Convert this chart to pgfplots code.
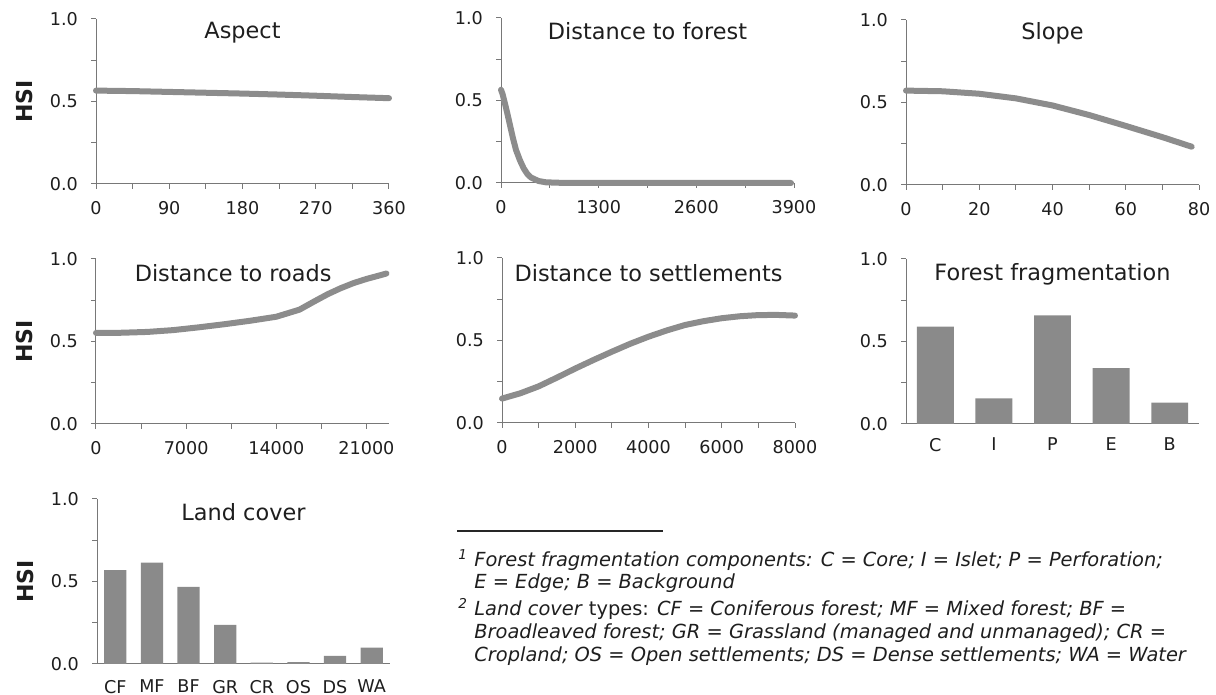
\documentclass[border=0pt]{standalone}
\usepackage{pgfplots}
\pgfplotsset{compat=1.18}
\usepackage{fontspec}
\setmainfont{DejaVu Sans}
\definecolor{lineg}{RGB}{140,140,140}
\definecolor{barg}{RGB}{138,138,138}
\definecolor{axg}{RGB}{120,120,120}
\definecolor{txt}{RGB}{30,30,30}
\tikzset{ptitle/.style={font=\fontsize{11.2}{12}\selectfont, text=txt, anchor=center},
  fn/.style={anchor=base west, inner sep=0pt, text=txt, font=\fontsize{9.7}{11}\selectfont}}
\pgfplotsset{
  panel/.style={
    scale only axis, width=146.5pt, height=82.5pt,
    ymin=0, ymax=1, ytick={0,0.5,1}, minor ytick={0.25,0.75},
    axis lines*=left, clip=false,
    axis line style={axg, line width=0.5pt},
    tick align=outside, major tick length=2.5pt, minor tick length=2.5pt,
    tick style={axg, line width=0.5pt},
    ticklabel style={font=\fontsize{8.8}{10}\selectfont, text=txt},
    scaled x ticks=false,
    /pgf/number format/assume math mode=true,
    /pgf/number format/1000 sep={},
    yticklabel style={xshift=-3pt, /pgf/number format/fixed, /pgf/number format/fixed zerofill, /pgf/number format/precision=1},
    xticklabel style={yshift=-2.5pt},
    ylabel style={at={(axis description cs:-0.245,0.5)}, anchor=center, font=\fontsize{11}{12}\bfseries\selectfont, text=txt},
  },
  curve/.style={line width=3pt, lineg, line cap=round, line join=round, no marks},
  bars/.style={ybar, fill=barg, draw=none},
}
\begin{document}
\begin{tikzpicture}
\path[use as bounding box] (0,0) rectangle (608pt,347.5pt);

% Aspect
\begin{axis}[panel, at={(48pt,255.5pt)}, anchor=south west,
  xmin=0, xmax=360, xtick={0,90,180,270,360}, minor xtick={45,135,225,315},
  ylabel={HSI}]
\addplot[curve] coordinates {(0,0.566) (45,0.563) (90,0.558) (135,0.553) (180,0.548) (225,0.542) (270,0.535) (315,0.527) (360,0.52)};
\node[ptitle] at (rel axis cs:0.5,0.92) {Aspect};
\end{axis}

% Distance to forest
\begin{axis}[panel, at={(250.5pt,256pt)}, anchor=south west,
  xmin=0, xmax=3900, xtick={0,1300,2600,3900}, minor xtick={650,1950,3250}]
\addplot[curve] coordinates {(0,0.565) (20,0.54) (40,0.505) (80,0.43) (120,0.35) (160,0.27) (200,0.2) (250,0.14) (300,0.09) (350,0.055) (400,0.033) (500,0.012) (600,0.004) (800,0.001) (1200,0) (3860,0)};
\node[ptitle] at (rel axis cs:0.5,0.92) {Distance to forest};
\end{axis}

% Slope
\begin{axis}[panel, at={(453pt,255pt)}, anchor=south west,
  xmin=0, xmax=80, xtick={0,20,40,60,80}, minor xtick={10,30,50,70}]
\addplot[curve] coordinates {(0,0.572) (10,0.568) (20,0.553) (30,0.525) (40,0.482) (50,0.424) (60,0.358) (70,0.29) (78,0.232)};
\node[ptitle] at (rel axis cs:0.5,0.92) {Slope};
\end{axis}

% Distance to roads
\begin{axis}[panel, at={(48pt,135.5pt)}, anchor=south west,
  xmin=0, xmax=22750, xtick={0,7000,14000,21000}, minor xtick={3500,10500,17500},
  ylabel={HSI}]
\addplot[curve] coordinates {(0,0.552) (2000,0.553) (4000,0.558) (6000,0.569) (8000,0.586) (10000,0.605) (12000,0.626) (14000,0.65) (15800,0.693) (17000,0.745) (18000,0.787) (19000,0.823) (20000,0.854) (21000,0.879) (22000,0.9) (22550,0.912)};
\node[ptitle] at (rel axis cs:0.468,0.915) {Distance to roads};
\end{axis}

% Distance to settlements
\begin{axis}[panel, at={(251pt,136pt)}, anchor=south west,
  xmin=0, xmax=8000, xtick={0,2000,4000,6000,8000}, minor xtick={1000,3000,5000,7000}]
\addplot[curve] coordinates {(0,0.148) (500,0.18) (1000,0.222) (1500,0.275) (2000,0.33) (2500,0.382) (3000,0.432) (3500,0.48) (4000,0.523) (4500,0.561) (5000,0.594) (5500,0.617) (6000,0.635) (6500,0.647) (7000,0.654) (7500,0.655) (8000,0.651)};
\node[ptitle] at (rel axis cs:0.5,0.91) {Distance to settlements};
\end{axis}

% Forest fragmentation
\begin{axis}[panel, at={(453pt,135.5pt)}, anchor=south west,
  xmin=0, xmax=5, xtick={0.5,1.5,2.5,3.5,4.5}, xticklabels={C,I,P,E,B},
  xtick style={draw=none}, xticklabel style={yshift=1.5pt}]
\addplot[bars, bar width=0.63] coordinates {(0.5,0.59) (1.5,0.156) (2.5,0.658) (3.5,0.338) (4.5,0.13)};
\node[ptitle] at (rel axis cs:0.5,0.91) {Forest fragmentation};
\end{axis}

% Land cover
\begin{axis}[panel, at={(48.5pt,15.5pt)}, anchor=south west,
  xmin=0, xmax=8, xtick={0.5,1.5,...,7.5}, xticklabels={CF,MF,BF,GR,CR,OS,DS,WA},
  xtick style={draw=none}, xticklabel style={yshift=0.5pt},
  ylabel={HSI}]
\addplot[bars, bar width=0.61] coordinates {(0.5,0.569) (1.5,0.615) (2.5,0.468) (3.5,0.237) (4.5,0.008) (5.5,0.012) (6.5,0.049) (7.5,0.099)};
\node[ptitle] at (rel axis cs:0.5,0.92) {Land cover};
\end{axis}

% footnotes
\draw[line width=0.6pt, black!85] (228.5pt,82pt) -- (331.5pt,82pt);
\node[fn] at (229pt,64pt) {\textsuperscript{\textit{1}}};
\node[fn] at (237pt,64pt) {\textit{Forest fragmentation components: C = Core; I = Islet; P = Perforation;}};
\node[fn] at (237pt,53pt) {\textit{E = Edge; B = Background}};
\node[fn] at (229pt,39.5pt) {\textsuperscript{\textit{2}}};
\node[fn] at (237pt,39.5pt) {\textit{Land cover} types: \textit{CF = Coniferous forest; MF = Mixed forest; BF =}};
\node[fn] at (237pt,28pt) {\textit{Broadleaved forest; GR = Grassland (managed and unmanaged); CR =}};
\node[fn] at (237pt,16.5pt) {\textit{Cropland; OS = Open settlements; DS = Dense settlements; WA = Water}};
\end{tikzpicture}
\end{document}
